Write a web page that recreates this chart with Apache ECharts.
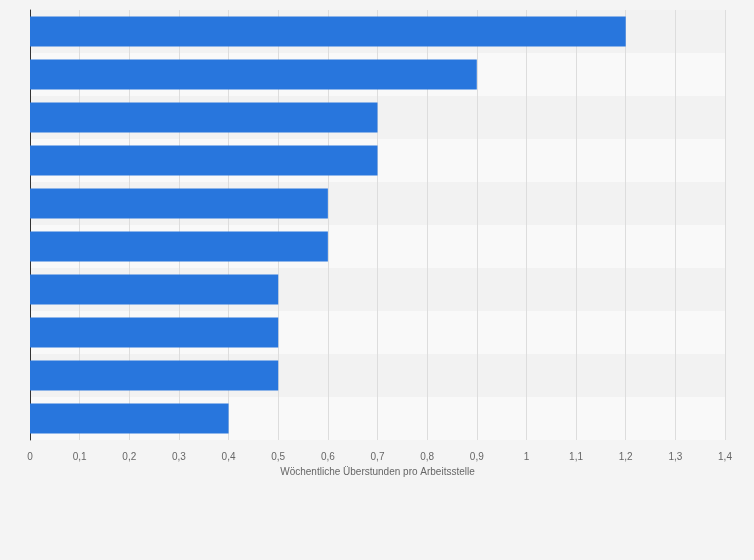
<!DOCTYPE html>
<html>
<head>
<meta charset="utf-8">
<script src="https://cdn.jsdelivr.net/npm/echarts@6/dist/echarts.min.js"></script>
<style>
  html, body { margin: 0; padding: 0; background: #f4f4f4; }
  #chart { width: 754px; height: 560px; }
</style>
</head>
<body>
<div id="chart"></div>
<script>
// Daten
const categories = ['1', '2', '3', '4', '5', '6', '7', '8', '9', '10']
const values = [1.2, 0.9, 0.7, 0.7, 0.6, 0.6, 0.5, 0.5, 0.5, 0.4]
const xTicks = { min: 0, max: 1.4, interval: 0.1 }

var myChart = echarts.init(document.getElementById('chart'))
myChart.setOption({
  backgroundColor: '#f4f4f4',
  animation: false,
  grid: { left: 30, right: 29, top: 10, bottom: 120 },
  xAxis: {
    type: 'value',
    min: xTicks.min,
    max: xTicks.max,
    interval: xTicks.interval,
    name: 'Wöchentliche Überstunden pro Arbeitsstelle',
    nameLocation: 'middle',
    nameGap: 24,
    nameTextStyle: { color: '#666', fontSize: 10, fontFamily: 'Arial' },
    axisLine: { show: false },
    axisTick: { show: false },
    axisLabel: {
      color: '#666', fontSize: 10, fontFamily: 'Arial', margin: 12,
      formatter: v => String(Math.round(v * 10) / 10).replace('.', ',')
    },
    splitLine: { lineStyle: { color: '#dddddd' } }
  },
  yAxis: {
    type: 'category',
    data: categories,
    inverse: true,
    axisLine: { lineStyle: { color: '#333' } },
    axisTick: { show: false },
    axisLabel: { show: false },
    splitArea: { show: true, areaStyle: { color: ['#f2f2f2', '#f9f9f9'] } }
  },
  series: [{
    type: 'bar',
    data: values,
    barWidth: 30,
    itemStyle: { color: '#2876dd' }
  }]
})
</script>
</body>
</html>
